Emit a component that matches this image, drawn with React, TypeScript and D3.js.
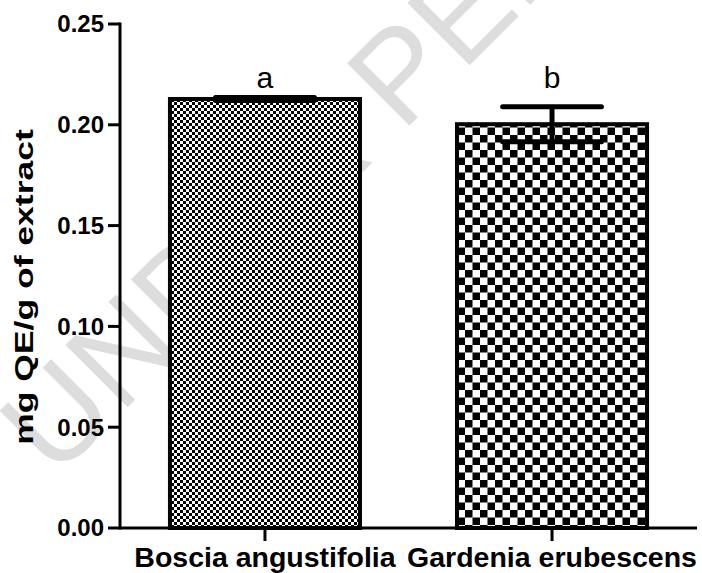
import * as d3 from "d3";

const width = 702;
const height = 573;

const categories = ["Boscia angustifolia", "Gardenia erubescens"];
const means = [0.2128, 0.2003];
const errors = [0.0008, 0.0087];
const letters = ["a", "b"];
const yTicks = [0, 0.05, 0.1, 0.15, 0.2, 0.25];
const patterns = ["fineCheck", "coarseCheck"];
const letterLevel = 0.2183;

const margin = { top: 24, right: 5, bottom: 45, left: 120 };

const y = d3.scaleLinear().domain([0, 0.25]).range([height - margin.bottom, margin.top]);
const x = d3
  .scaleBand()
  .domain(categories)
  .range([margin.left, width - margin.right])
  .paddingInner(0.338)
  .paddingOuter(0.174);

const font = "Arial, 'Liberation Sans', sans-serif";

const App = () => {
  const y0 = y(0);
  return (
    <svg width={width} height={height} style={{ position: "absolute", left: 0, top: 0 }}>
      <defs>
        <pattern id="fineCheck" width={6} height={6} patternUnits="userSpaceOnUse">
          <rect width={6} height={6} fill="#fff" />
          <rect width={3} height={3} fill="#000" />
          <rect x={3} y={3} width={3} height={3} fill="#000" />
        </pattern>
        <pattern id="coarseCheck" width={15} height={15} patternUnits="userSpaceOnUse">
          <rect width={15} height={15} fill="#fff" />
          <rect width={7.5} height={7.5} fill="#000" />
          <rect x={7.5} y={7.5} width={7.5} height={7.5} fill="#000" />
        </pattern>
      </defs>
      <rect width={width} height={height} fill="#fff" />
      {/* watermark */}
      <text
        transform="translate(55,480) rotate(-45)"
        fontFamily={font}
        fontSize={128}
        fill="#dddddd"
      >
        UNDER PEER REVIEW
      </text>

      {categories.map((c, i) => {
        const bx = x(c)!;
        const bw = x.bandwidth();
        const cx = bx + bw / 2;
        const top = y(means[i] + errors[i]);
        const bot = y(means[i] - errors[i]);
        return (
          <g key={c}>
            <rect
              x={bx}
              y={y(means[i])}
              width={bw}
              height={y0 - y(means[i])}
              fill={`url(#${patterns[i]})`}
              stroke="#000"
              strokeWidth={4}
            />
            <line x1={cx} x2={cx} y1={top} y2={bot} stroke="#000" strokeWidth={5} />
            <line x1={cx - bw * 0.26} x2={cx + bw * 0.26} y1={top} y2={top} stroke="#000" strokeWidth={5} strokeLinecap="round" />
            <line x1={cx - bw * 0.26} x2={cx + bw * 0.26} y1={bot} y2={bot} stroke="#000" strokeWidth={5} strokeLinecap="round" />
            <text x={cx} y={y(letterLevel)} textAnchor="middle" fontFamily={font} fontSize={30} fill="#000">
              {letters[i]}
            </text>
            <line x1={cx} x2={cx} y1={y0} y2={y0 + 13} stroke="#000" strokeWidth={3} />
            <text x={cx} y={567} textAnchor="middle" fontFamily={font} fontWeight="bold" fontSize={28.5} fill="#000">
              {c}
            </text>
          </g>
        );
      })}

      <line x1={margin.left} x2={margin.left} y1={y(0.25) - 1.5} y2={y0 + 1.5} stroke="#000" strokeWidth={3} />
      <line x1={margin.left} x2={width - 5} y1={y0} y2={y0} stroke="#000" strokeWidth={3} />
      {yTicks.map((t) => (
        <g key={t}>
          <line x1={margin.left - 12} x2={margin.left} y1={y(t)} y2={y(t)} stroke="#000" strokeWidth={3} />
          <text
            x={margin.left - 16}
            y={y(t)}
            dy="0.35em"
            textAnchor="end"
            fontFamily={font}
            fontWeight="bold"
            fontSize={24}
            fill="#000"
          >
            {t.toFixed(2)}
          </text>
        </g>
      ))}
      <text
        transform="translate(33,287) rotate(-90) scale(1.42,1)"
        textAnchor="middle"
        fontFamily={font}
        fontWeight="bold"
        fontSize={25}
        fill="#000"
      >
        mg QE/g of extract
      </text>
    </svg>
  );
};

export default App;
